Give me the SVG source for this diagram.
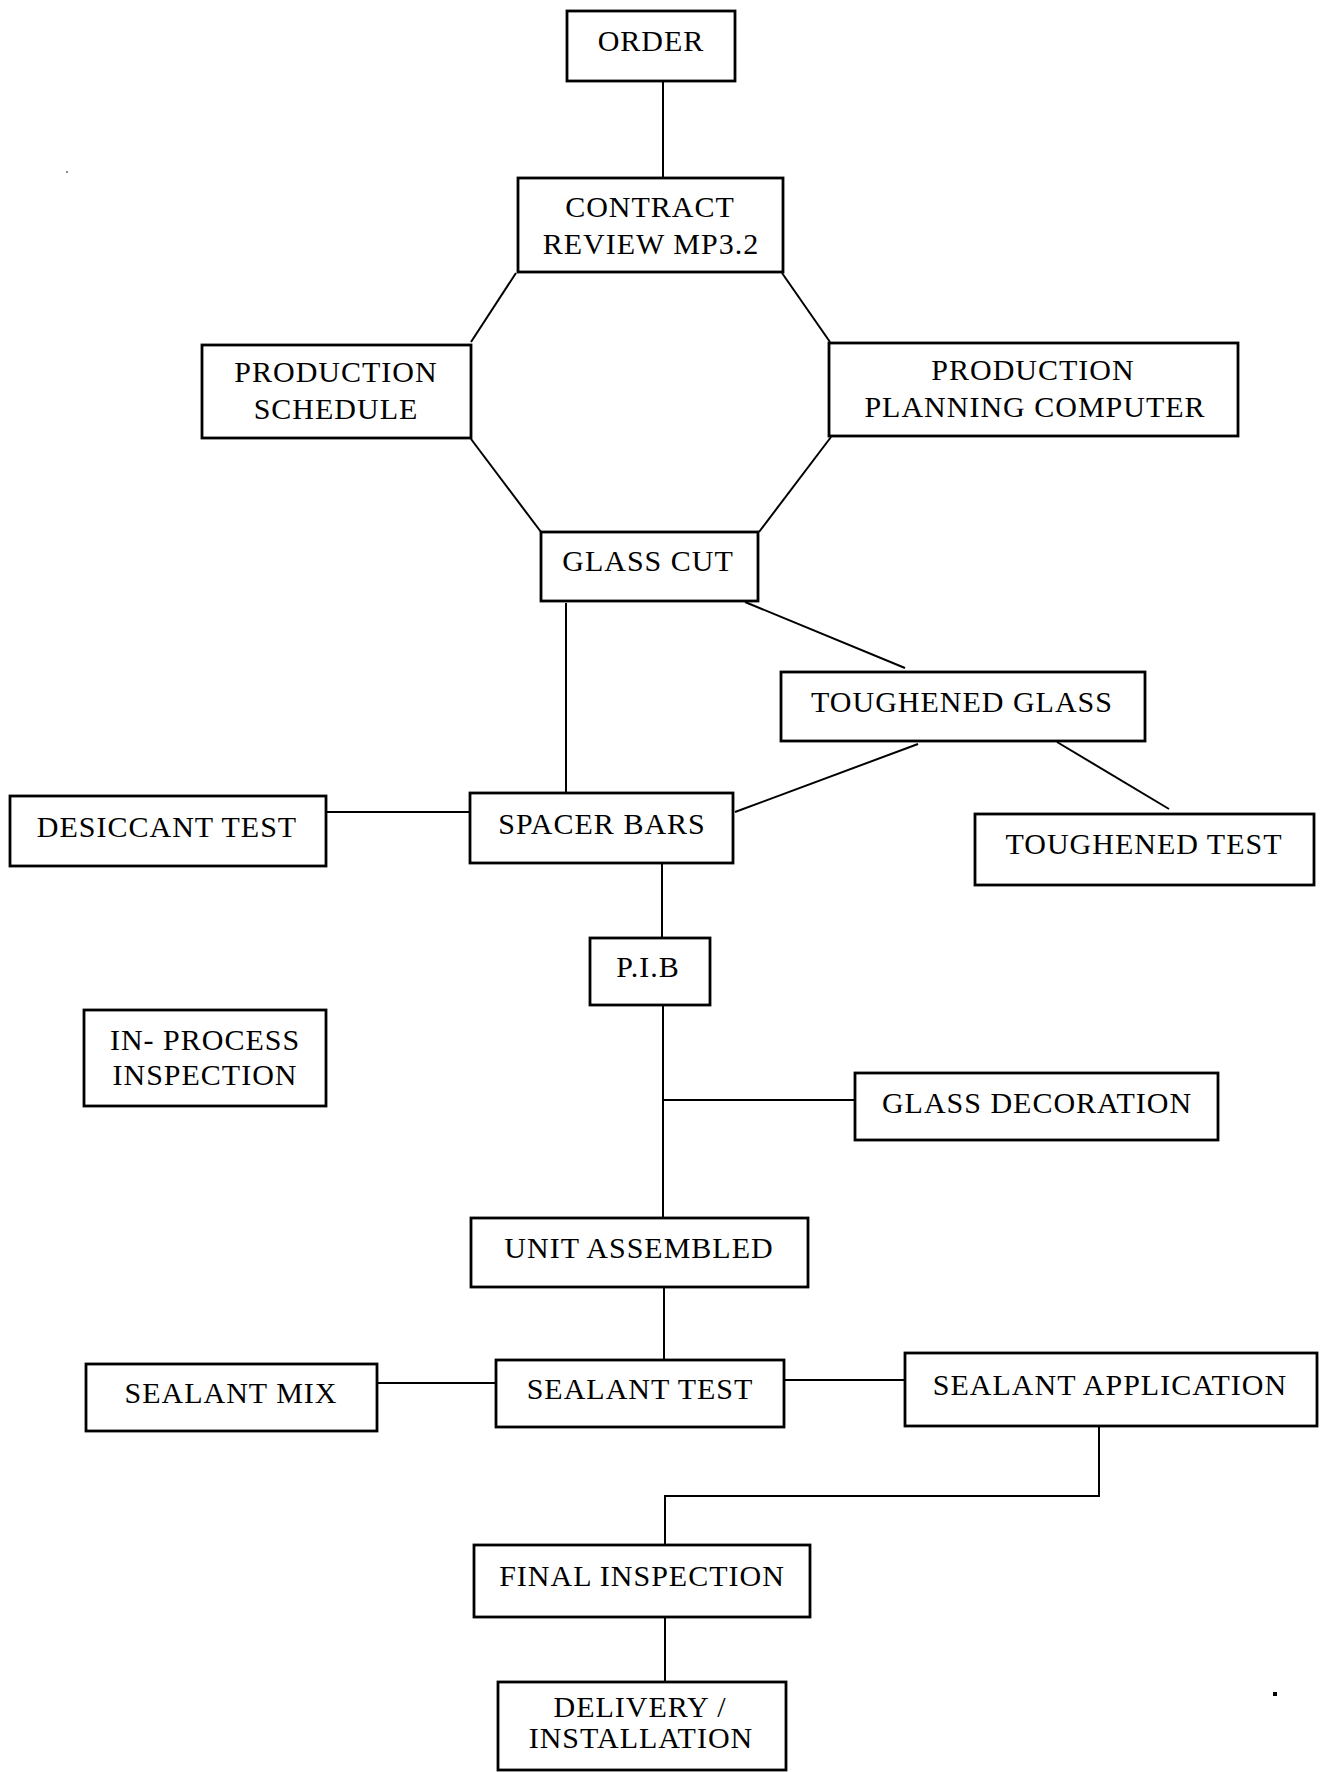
<svg xmlns="http://www.w3.org/2000/svg" width="1322" height="1772" viewBox="0 0 1322 1772">
<style>
.box{fill:#fff;stroke:#000;stroke-width:2.8}
.lbl{font-family:"Liberation Serif","Times New Roman",serif;font-size:30px;letter-spacing:1px;fill:#000;text-anchor:middle}
.con{stroke:#000;stroke-width:2;fill:none}
</style>
<rect width="1322" height="1772" fill="#fff"/>
<g id="connectors">
<line class="con" x1="663" y1="81" x2="663" y2="178"/>
<line class="con" x1="516" y1="273" x2="471" y2="342"/>
<line class="con" x1="782" y1="273" x2="830" y2="342"/>
<line class="con" x1="471" y1="439" x2="541" y2="532"/>
<line class="con" x1="831" y1="437" x2="759" y2="532"/>
<line class="con" x1="566" y1="603" x2="566" y2="793"/>
<line class="con" x1="745" y1="602" x2="905" y2="668"/>
<line class="con" x1="918" y1="744" x2="735" y2="812"/>
<line class="con" x1="1057" y1="742" x2="1169" y2="809"/>
<line class="con" x1="326" y1="812" x2="470" y2="812"/>
<line class="con" x1="662" y1="864" x2="662" y2="938"/>
<line class="con" x1="663" y1="1005" x2="663" y2="1218"/>
<line class="con" x1="663" y1="1100" x2="855" y2="1100"/>
<line class="con" x1="664" y1="1287" x2="664" y2="1360"/>
<line class="con" x1="377" y1="1383" x2="496" y2="1383"/>
<line class="con" x1="784" y1="1380" x2="905" y2="1380"/>
<polyline class="con" points="1099,1426 1099,1496 665,1496 665,1545"/>
<line class="con" x1="665" y1="1617" x2="665" y2="1682"/>
</g>
<g id="order"><rect class="box" x="567" y="11" width="168" height="70"/><text class="lbl" x="651" y="51">ORDER</text></g>
<g id="contract-review"><rect class="box" x="518" y="178" width="265" height="94"/><text class="lbl" x="650" y="217">CONTRACT</text><text class="lbl" x="651" y="254">REVIEW MP3.2</text></g>
<g id="production-schedule"><rect class="box" x="202" y="345" width="269" height="93"/><text class="lbl" x="336" y="382">PRODUCTION</text><text class="lbl" x="336" y="419">SCHEDULE</text></g>
<g id="production-planning-computer"><rect class="box" x="829" y="343" width="409" height="93"/><text class="lbl" x="1033" y="380">PRODUCTION</text><text class="lbl" x="1035" y="417">PLANNING COMPUTER</text></g>
<g id="glass-cut"><rect class="box" x="541" y="532" width="217" height="69"/><text class="lbl" x="648" y="571">GLASS CUT</text></g>
<g id="toughened-glass"><rect class="box" x="781" y="672" width="364" height="69"/><text class="lbl" x="962" y="712">TOUGHENED GLASS</text></g>
<g id="toughened-test"><rect class="box" x="975" y="814" width="339" height="71"/><text class="lbl" x="1144" y="854">TOUGHENED TEST</text></g>
<g id="spacer-bars"><rect class="box" x="470" y="793" width="263" height="70"/><text class="lbl" x="602" y="834">SPACER BARS</text></g>
<g id="desiccant-test"><rect class="box" x="10" y="796" width="316" height="70"/><text class="lbl" x="167" y="837">DESICCANT TEST</text></g>
<g id="pib"><rect class="box" x="590" y="938" width="120" height="67"/><text class="lbl" x="648" y="977">P.I.B</text></g>
<g id="in-process-inspection"><rect class="box" x="84" y="1010" width="242" height="96"/><text class="lbl" x="205" y="1050">IN- PROCESS</text><text class="lbl" x="205" y="1085">INSPECTION</text></g>
<g id="glass-decoration"><rect class="box" x="855" y="1073" width="363" height="67"/><text class="lbl" x="1037" y="1113">GLASS DECORATION</text></g>
<g id="unit-assembled"><rect class="box" x="471" y="1218" width="337" height="69"/><text class="lbl" x="639" y="1258">UNIT ASSEMBLED</text></g>
<g id="sealant-test"><rect class="box" x="496" y="1360" width="288" height="67"/><text class="lbl" x="640" y="1399">SEALANT TEST</text></g>
<g id="sealant-mix"><rect class="box" x="86" y="1364" width="291" height="67"/><text class="lbl" x="231" y="1403">SEALANT MIX</text></g>
<g id="sealant-application"><rect class="box" x="905" y="1353" width="412" height="73"/><text class="lbl" x="1110" y="1395">SEALANT APPLICATION</text></g>
<g id="final-inspection"><rect class="box" x="474" y="1545" width="336" height="72"/><text class="lbl" x="642" y="1586">FINAL INSPECTION</text></g>
<g id="delivery-installation"><rect class="box" x="498" y="1682" width="288" height="88"/><text class="lbl" x="640" y="1717">DELIVERY /</text><text class="lbl" x="641" y="1748">INSTALLATION</text></g>
<rect x="1273" y="1692" width="4" height="4" fill="#000"/>
<rect x="66" y="171" width="2" height="2" fill="#888"/>
</svg>
